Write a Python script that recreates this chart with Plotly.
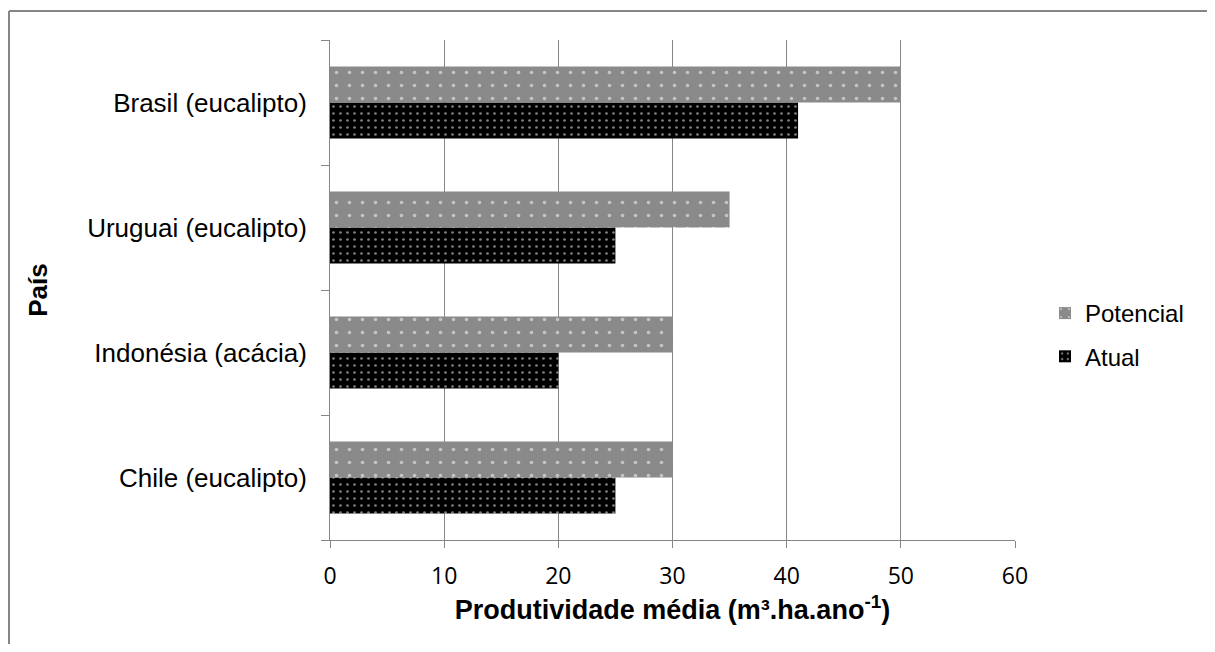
import plotly.graph_objects as go

categories = ["Chile (eucalipto)", "Indonésia (acácia)", "Uruguai (eucalipto)", "Brasil (eucalipto)"]
atual = [25, 20, 25, 41]
potencial = [30, 30, 35, 50]
x_ticks = [0, 10, 20, 30, 40, 50, 60]

OFF = 8  # default page body margin
W, H = 1215 - 2 * OFF, 652 - 2 * OFF
L, T = 330 - OFF, 40 - OFF
pw, ph = 685, 500
R, B = W - L - pw, H - T - ph

fig = go.Figure()
fig.add_trace(go.Bar(
    y=categories, x=atual, name="Atual", orientation="h", legendrank=2, legendgroup="a",
    marker=dict(color="black", line=dict(width=0),
                pattern=dict(shape=".", bgcolor="black", fgcolor="white", size=7, solidity=0.12, fillmode="overlay")),
))
fig.add_trace(go.Bar(
    y=categories, x=potencial, name="Potencial", orientation="h", legendrank=1, legendgroup="p",
    marker=dict(color="#8a8a8a", line=dict(width=0),
                pattern=dict(shape=".", bgcolor="#8a8a8a", fgcolor="white", size=13, solidity=0.06, fillmode="overlay")),
))

gray = "#868686"
ARIAL = "Liberation Sans, Arial"
fig.update_layout(
    width=W, height=H,
    margin=dict(l=L, r=R, t=T, b=B),
    paper_bgcolor="white", plot_bgcolor="white",
    barmode="group", bargap=0.424, bargroupgap=0,
    font=dict(family=ARIAL, size=26, color="black"),
    legend=dict(x=(1045 - OFF - L) / pw, y=1 - (335 - 40) / ph, xanchor="left", yanchor="middle",
                traceorder="grouped", tracegroupgap=9, itemwidth=30, borderwidth=0,
                font=dict(family=ARIAL, size=24)),
    xaxis=dict(range=[0, 60], tickvals=x_ticks, showgrid=True, gridcolor=gray, gridwidth=1,
               showline=True, linecolor=gray, linewidth=1, ticks="outside", ticklen=7, tickcolor=gray,
               ticklabelstandoff=8,
               tickfont=dict(family="Open Sans", size=23), zeroline=False,
               title=dict(text="<b>Produtividade média (m³.ha.ano<sup>-1</sup>)</b>",
                          font=dict(family=ARIAL, size=27), standoff=8)),
    yaxis=dict(categoryorder="array", categoryarray=categories, showgrid=False,
               showline=True, linecolor=gray, linewidth=1, ticks="outside", ticklen=8, tickcolor=gray,
               tickson="boundaries", ticklabelstandoff=17,
               tickfont=dict(family=ARIAL, size=26),
               title=dict(text="<b>País</b>", font=dict(family=ARIAL, size=26), standoff=32)),
    shapes=[
        dict(type="line", xref="paper", yref="paper", x0=(9 - OFF - L) / pw, x1=(W - L) / pw,
             y0=1 + (T - (11 - OFF)) / ph, y1=1 + (T - (11 - OFF)) / ph, line=dict(color=gray, width=2)),
        dict(type="line", xref="paper", yref="paper", x0=(9 - OFF - L) / pw, x1=(9 - OFF - L) / pw,
             y0=1 + (T - (11 - OFF)) / ph, y1=-(H - T - ph) / ph, line=dict(color=gray, width=2)),
    ],
)
fig.write_html("out.html")
